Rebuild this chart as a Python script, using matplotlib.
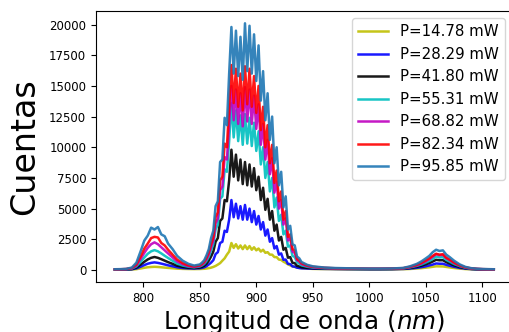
import numpy as np
import matplotlib
matplotlib.use('Agg')
import matplotlib.pyplot as plt

# Wavelength grid (nm): coarse on the tails, 2 nm through the main band
wavelength = [775, 780, 785, 790, 794, 798, 801, 804, 807, 810, 813, 816, 819, 822, 826, 830, 835, 840, 845,
              850, 852, 854, 856, 858, 860, 862, 864, 866, 868, 870, 872, 874, 876, 878, 880, 882, 884, 886, 888,
              890, 892, 894, 896, 898, 900, 902, 904, 906, 908, 910, 912, 914, 916, 918, 920, 922, 924, 926, 928,
              930, 932, 934, 936, 938, 940,
              945, 950, 960, 970, 980, 990, 1000, 1010, 1020, 1030, 1036, 1042, 1046, 1050, 1053, 1056, 1059, 1062,
              1065, 1068, 1071, 1075, 1080, 1085, 1090, 1095, 1100, 1105, 1110]

powers = ['14.78', '28.29', '41.80', '55.31', '68.82', '82.34', '95.85']
colors = ['y', 'b', 'k', 'c', 'm', 'r', 'tab:blue']

# Counts, one list per pump power
counts_1478 = [25, 28, 30, 40, 70, 130, 180, 220, 245, 260, 245, 220, 195, 170, 140, 110, 90, 80, 75,
               80, 90, 100, 120, 150, 190, 250, 330, 440, 560, 760, 950, 1250, 1500, 2200, 1800, 2100, 1750, 2000, 1700,
               2000, 1700, 1950, 1650, 1850, 1600, 1750, 1500, 1650, 1400, 1450, 1250, 1250, 1050, 1050, 850, 820, 680, 580, 460,
               380, 300, 250, 200, 170, 140,
               110, 90, 75, 65, 60, 55, 50, 50, 55, 65, 85, 120, 150, 190, 220, 260, 300, 295,
               290, 250, 210, 160, 110, 75, 55, 40, 35, 30, 25]
counts_2829 = [30, 35, 40, 60, 130, 280, 400, 510, 580, 620, 580, 520, 450, 380, 300, 220, 160, 130, 120,
               140, 170, 220, 310, 450, 600, 800, 1300, 1450, 2200, 2300, 3200, 3100, 4100, 5700, 4300, 5400, 4200, 5200, 4100,
               5300, 4100, 5000, 3900, 4800, 3700, 4400, 3300, 3900, 2800, 3300, 2300, 2600, 1750, 1950, 1250, 1350, 830, 850, 500,
               480, 290, 270, 190, 160, 140,
               120, 105, 90, 80, 75, 70, 65, 65, 70, 85, 120, 180, 230, 300, 370, 440, 530, 510,
               510, 420, 350, 260, 170, 110, 75, 55, 45, 40, 30]
counts_4180 = [35, 40, 50, 80, 200, 460, 670, 860, 990, 1060, 990, 880, 760, 640, 500, 350, 250, 190, 160,
               200, 260, 350, 520, 760, 1100, 1500, 2300, 2600, 4000, 4200, 5700, 5600, 7300, 9800, 7600, 9400, 7300, 9000, 7000,
               8800, 6900, 8600, 6800, 8300, 6500, 7600, 5700, 6700, 4900, 5800, 4100, 4800, 3200, 3700, 2400, 2700, 1650, 1800, 1000,
               1050, 580, 560, 340, 290, 220,
               170, 140, 110, 95, 85, 80, 75, 75, 80, 105, 170, 260, 350, 470, 570, 690, 830, 790,
               800, 640, 530, 380, 240, 145, 90, 65, 50, 45, 35]
counts_5531 = [40, 50, 60, 110, 290, 700, 1020, 1320, 1520, 1620, 1520, 1350, 1160, 980, 750, 520, 360, 260, 210,
               280, 370, 500, 740, 1080, 1600, 2100, 3300, 3700, 5800, 6000, 8200, 8000, 10500, 13600, 10800, 13000, 10500, 12600, 10200,
               12700, 10300, 12400, 10100, 12000, 9700, 11300, 8600, 10000, 7500, 8800, 6400, 7500, 5100, 5900, 4000, 4500, 2900, 3200, 1900,
               2000, 1150, 1050, 650, 520, 380,
               260, 190, 140, 115, 100, 90, 85, 85, 95, 125, 210, 330, 450, 610, 740, 900, 1100, 1020,
               1050, 820, 680, 480, 300, 175, 105, 75, 60, 50, 40]
counts_6882 = [45, 55, 70, 140, 380, 950, 1400, 1800, 2100, 2250, 2100, 1850, 1600, 1350, 1020, 700, 470, 320, 250,
               330, 440, 600, 880, 1280, 1850, 2400, 3800, 4200, 6500, 6800, 9200, 9000, 11900, 15000, 12200, 14700, 11900, 14400, 11700,
               14900, 12100, 14700, 11900, 14200, 11500, 13500, 10200, 11900, 9000, 10600, 7800, 9100, 6300, 7200, 5000, 5700, 3700, 4200, 2400,
               2600, 1500, 1400, 800, 700, 480,
               320, 230, 160, 130, 110, 100, 95, 95, 105, 140, 240, 380, 530, 720, 880, 1080, 1300, 1200,
               1250, 960, 800, 570, 350, 200, 120, 85, 65, 55, 45]
counts_8234 = [50, 60, 80, 160, 450, 1150, 1750, 2150, 2600, 2700, 2650, 2200, 2000, 1650, 1250, 850, 560, 380, 290,
               380, 500, 680, 1000, 1450, 2100, 2700, 4300, 4700, 7300, 7600, 10300, 10000, 13300, 16700, 13600, 16400, 13300, 16000, 13000,
               16600, 13500, 16400, 13300, 15800, 12800, 15000, 11400, 13300, 10000, 11800, 8700, 10200, 7100, 8100, 5600, 6400, 4100, 4800, 2700,
               2900, 1700, 1600, 900, 780, 550,
               360, 260, 180, 140, 120, 110, 100, 100, 110, 150, 260, 420, 580, 780, 950, 1150, 1320, 1250,
               1280, 1000, 850, 600, 370, 210, 130, 90, 70, 60, 50]
counts_9585 = [60, 70, 90, 200, 600, 1600, 2400, 2800, 3450, 3300, 3500, 2900, 2750, 2150, 1700, 1150, 750, 500, 360,
               450, 600, 800, 1200, 1700, 2600, 3200, 5200, 5600, 8800, 9000, 12400, 11800, 16000, 19800, 16000, 19500, 15800, 19000, 15500,
               20100, 16200, 19900, 16000, 19200, 15400, 18300, 13800, 16200, 12200, 14400, 10600, 12500, 8700, 10000, 6900, 8000, 5100, 6000, 3300,
               3600, 2100, 2000, 1100, 950, 650,
               420, 300, 200, 160, 140, 120, 110, 110, 120, 170, 300, 500, 700, 950, 1150, 1450, 1650, 1550,
               1600, 1250, 1050, 750, 450, 250, 150, 100, 80, 70, 60]

spectra = [counts_1478, counts_2829, counts_4180, counts_5531, counts_6882, counts_8234, counts_9585]

fig = plt.figure(figsize=(5.09, 3.32), dpi=100)
ax = fig.add_axes([0.1886, 0.1506, 0.8187, 0.8163])

for p, c, y in zip(powers, colors, spectra):
    ax.plot(wavelength, y, color=c, lw=1.8, alpha=0.9, label='P=' + p + ' mW')

ax.set_xticks(np.arange(800, 1101, 50))
ax.set_yticks(np.arange(0, 20001, 2500))
ax.tick_params(labelsize=8.5)
ax.set_xlabel('Longitud de onda ($nm$)', fontsize=17.7, labelpad=2)
ax.set_ylabel('Cuentas', fontsize=24, labelpad=6)
ax.legend(loc='upper right', fontsize=10.8)

fig.savefig('out.png', dpi=100)
